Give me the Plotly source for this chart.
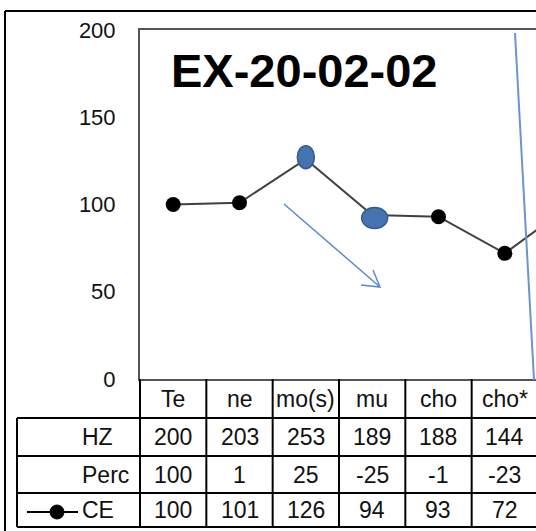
import plotly.graph_objects as go

# ---- data ----
categories = ["Te", "ne", "mo(s)", "mu", "cho", "cho*", "te*"]  # last one is off-screen
ce_values = [100, 101, 126, 94, 93, 72, 100]
table_cols = ["Te", "ne", "mo(s)", "mu", "cho", "cho*"]
hz_values = [200, 203, 253, 189, 188, 144]
perc_values = [100, 1, 25, -25, -1, -23]
ce_row = [100, 101, 126, 94, 93, 72]
row_labels = ["HZ", "Perc", "CE"]
y_ticks = [0, 50, 100, 150, 200]
title_text = "EX-20-02-02"

# ---- layout geometry (pixels) ----
W, H = 536, 531
L, T = 140, 30
PLOT_BOTTOM = 379
B = H - PLOT_BOTTOM
PW = W - L
PH = PLOT_BOTTOM - T


def px(xp):
    return (xp - L) / PW


def py(yp):
    return (PLOT_BOTTOM - yp) / PH


FONT = "Liberation Sans, Arial, sans-serif"
TXT = "#111111"

fig = go.Figure()
fig.add_trace(go.Scatter(
    x=categories, y=ce_values, mode="lines+markers",
    line=dict(color="#404040", width=2),
    marker=dict(color="black", size=15),
    showlegend=False, hoverinfo="skip",
))

shapes = []
annotations = []

# outer frame (left & top)
shapes.append(dict(type="line", xref="paper", yref="paper", x0=px(5), x1=px(5),
                   y0=py(11), y1=py(540), line=dict(color="black", width=2)))
shapes.append(dict(type="line", xref="paper", yref="paper", x0=px(5), x1=px(545),
                   y0=py(11), y1=py(11), line=dict(color="black", width=2)))

# table rows
row_lines = [418, 456, 493, 527]
for yl in row_lines:
    shapes.append(dict(type="line", xref="paper", yref="paper", x0=px(17), x1=px(545),
                       y0=py(yl), y1=py(yl), line=dict(color="black", width=2)))
# left borders of table
shapes.append(dict(type="line", xref="paper", yref="paper", x0=px(17), x1=px(17),
                   y0=py(418), y1=py(527), line=dict(color="black", width=2)))
shapes.append(dict(type="line", xref="paper", yref="paper", x0=0, x1=0,
                   y0=py(379), y1=py(527), line=dict(color="black", width=2)))
# column separators via x axis scale
for i in range(1, len(categories)):
    shapes.append(dict(type="line", xref="x", yref="paper", x0=i - 0.5, x1=i - 0.5,
                       y0=py(379), y1=py(527), line=dict(color="black", width=2)))

# table text
row_centers = [398.5, 437, 474.5, 510]
cell_font = dict(family=FONT, size=23, color=TXT)
for i, c in enumerate(table_cols):
    annotations.append(dict(xref="x", yref="paper", x=i, y=py(row_centers[0]), text=c,
                            showarrow=False, font=cell_font, xanchor="center", yanchor="middle"))
for r, vals in enumerate([hz_values, perc_values, ce_row]):
    for i, v in enumerate(vals):
        annotations.append(dict(xref="x", yref="paper", x=i, y=py(row_centers[r + 1]),
                                text=str(v), showarrow=False, font=cell_font,
                                xanchor="center", yanchor="middle"))
for r, lab in enumerate(row_labels):
    annotations.append(dict(xref="paper", yref="paper", x=px(80), y=py(row_centers[r + 1]),
                            text=lab, showarrow=False, font=cell_font,
                            xanchor="left", yanchor="middle"))

# legend key in CE row
shapes.append(dict(type="line", xref="paper", yref="paper", x0=px(27), x1=px(78),
                   y0=py(512), y1=py(512), line=dict(color="black", width=2)))
shapes.append(dict(type="circle", xref="paper", yref="paper", x0=px(50), x1=px(64),
                   y0=py(505), y1=py(519), fillcolor="black", line=dict(color="black", width=1)))

# title
annotations.append(dict(xref="paper", yref="paper", x=px(169), y=py(70), text="<b>" + title_text + "</b>",
                        showarrow=False, font=dict(family=FONT, size=47, color="black"),
                        xanchor="left", yanchor="middle"))

# blue highlight ellipses on points
blue_fill = "#4774b0"
blue_edge = "#365b8e"
shapes.append(dict(type="circle", xref="x", yref="y", xsizemode="pixel", ysizemode="pixel",
                   xanchor=2, yanchor=ce_values[2], x0=-8.5, x1=8.5, y0=-9.5, y1=13.5,
                   fillcolor=blue_fill, line=dict(color=blue_edge, width=1.5)))
shapes.append(dict(type="circle", xref="x", yref="y", xsizemode="pixel", ysizemode="pixel",
                   xanchor=3, yanchor=ce_values[3], x0=-10.5, x1=15.5, y0=-13.5, y1=7.5,
                   fillcolor=blue_fill, line=dict(color=blue_edge, width=1.5)))

# drawn blue arrow
arrow_col = "#5a8ad0"
tip = (380, 287)
path = (f"M {px(284)} {py(204)} L {px(tip[0])} {py(tip[1])} "
        f"M {px(373)} {py(270)} L {px(tip[0])} {py(tip[1])} L {px(361)} {py(285)}")
shapes.append(dict(type="path", xref="paper", yref="paper", path=path,
                   line=dict(color=arrow_col, width=1.5)))
# long blue stroke at right
shapes.append(dict(type="line", xref="paper", yref="paper", x0=px(515), y0=py(33),
                   x1=px(534), y1=py(380), line=dict(color="#6b95cc", width=2)))

fig.update_layout(
    width=W, height=H,
    margin=dict(l=L, r=0, t=T, b=B, pad=0),
    paper_bgcolor="white", plot_bgcolor="white",
    showlegend=False,
    shapes=shapes, annotations=annotations,
    xaxis=dict(type="category", categoryorder="array", categoryarray=categories,
               range=[-0.5, 5.47], showticklabels=False, ticks="",
               showline=True, mirror=True, linecolor="#555555", linewidth=2,
               showgrid=False, zeroline=False, fixedrange=True),
    yaxis=dict(range=[0, 200], tickvals=y_ticks, ticks="", ticklabelstandoff=18,
               tickfont=dict(family=FONT, size=22, color=TXT),
               showline=True, linecolor="#555555", linewidth=2,
               showgrid=False, zeroline=False, fixedrange=True),
)

fig.write_html(
    "out.html",
    config={"displayModeBar": False},
    post_script="document.body.style.margin='0';document.body.style.padding='0';"
                "document.body.style.overflow='hidden';"
                "document.documentElement.style.overflow='hidden';",
)
